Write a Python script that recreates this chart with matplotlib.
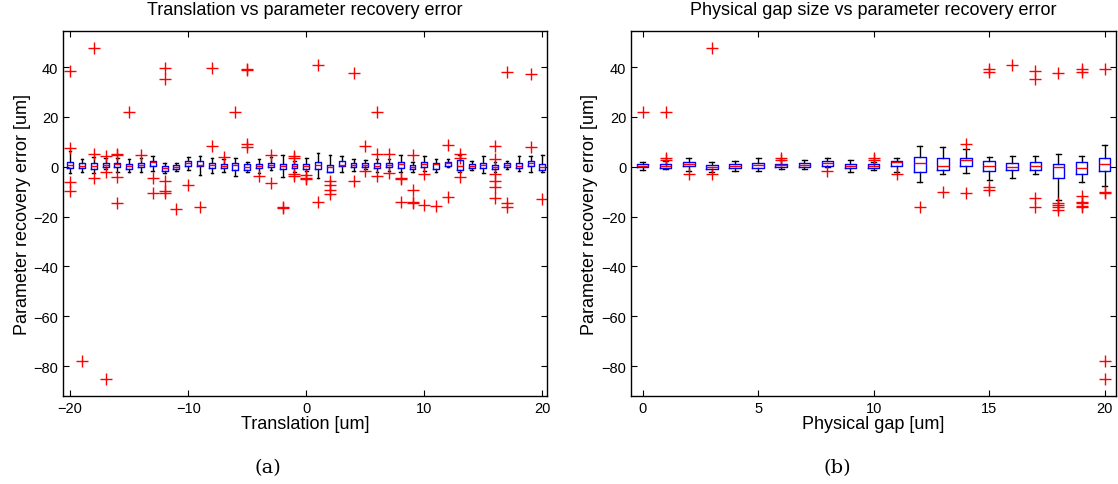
import matplotlib
matplotlib.use('Agg')
import matplotlib.pyplot as plt

plt.rcParams['font.family'] = ['Liberation Sans', 'DejaVu Sans']

# ---------------------------------------------------------------------------
# (a) Translation vs parameter recovery error  -- box statistics per position
# ---------------------------------------------------------------------------
trans_pos = list(range(-20, 21))
trans_med = [0.9, 0.5, 0.5, 0.9, 1.1, 0.4, 0.9, 1.9, -0.4, 0.1, 1.6, 0.9, 0.8, 0.3, 0.9, 0.1,
             0.5, 0.9, 0.5, 0.5, 0.3, 0.9, 0.1, 0.9, 0.9, 0.9, 0.5, 0.8, 1.2, 0.1, 1.2, 1.3,
             1.5, 0.5, 0.4, 0.8, 0.1, 0.9, 0.5, 1.6, 0.1]
trans_q1 = [-0.4, -0.5, -0.8, 0.1, 0.0, -0.8, -0.1, 0.4, -1.6, -0.8, 0.5, 0.3, -0.3, -0.4, -1.1, -1.2,
            -0.4, 0.1, -0.8, -0.4, -0.8, -0.8, -1.9, 0.3, -0.1, 0.1, -0.4, -0.1, -0.3, -0.8, 0.0, -0.8,
            0.5, -1.1, -0.4, -0.5, -0.8, -0.1, -0.4, 0.3, -1.1]
trans_q3 = [2.1, 1.5, 1.6, 1.6, 1.7, 1.3, 1.6, 2.3, 0.4, 0.8, 2.5, 2.5, 1.5, 1.1, 1.6, 1.1,
            1.1, 1.6, 1.3, 1.3, 1.3, 2.1, 0.8, 2.3, 1.6, 1.5, 1.6, 1.5, 2.0, 0.8, 1.9, 1.6,
            2.1, 2.7, 1.1, 1.7, 0.8, 1.5, 1.6, 2.3, 1.2]
trans_wlo = [-2.5, -1.9, -2.5, -0.8, -1.9, -2.1, -2.1, -1.5, -2.4, -1.7, -1.1, -3.4, -2.4, -2.1, -3.5, -2.1,
             -2.4, -1.1, -4.2, -1.9, -1.5, -4.6, -2.1, -1.9, -1.5, -0.8, -1.9, -1.5, -1.9, -2.1, -1.5, -2.1,
             0.1, -2.1, -1.2, -2.4, -1.9, -0.8, -1.5, -2.1, -2.1]
trans_whi = [6.3, 3.2, 3.9, 3.5, 3.5, 3.2, 3.5, 4.2, 1.6, 1.6, 3.8, 4.3, 3.5, 3.2, 3.5, 1.9,
             3.2, 3.9, 4.8, 2.5, 3.5, 5.6, 4.8, 4.4, 3.0, 2.8, 3.2, 3.2, 4.8, 2.1, 4.3, 3.0,
             3.2, 4.8, 2.5, 4.3, 1.9, 2.5, 4.3, 4.3, 4.8]
trans_fliers = [
    [38.4, 7.5, -6.3, -9.7], [-77.8], [47.8, 5.2, -4.5], [4.3, -2.1, -85.0],
    [5.0, 4.6, -3.9, -14.6], [22.0], [4.6], [-4.3, -10.5],
    [39.5, 35.2, -5.9, -9.9, -10.5], [-17.0], [-7.5], [-16.0],
    [39.8, 8.3], [4.0], [22.0], [39.2, 38.7, 9.1, 7.8],
    [-3.5], [4.6, -6.4], [-16.3, -16.7], [4.3, 3.5, -2.8, -3.5],
    [-3.2, -4.6, -5.0], [40.8, -14.0], [-5.5, -7.5, -9.5, -10.9], [],
    [37.8, -5.9], [8.3, -1.7], [22.0, 5.2, -3.8], [5.2, -2.4],
    [-4.6, -4.9, -14.0], [4.6, -9.5, -14.0, -14.6], [-2.8, -15.3], [-15.9],
    [8.9, -12.0], [5.2, 3.5, -4.2], [], [],
    [8.2, 3.2, -2.8, -5.5, -8.2, -12.6], [38.1, -14.6, -16.3], [], [37.4, 7.9],
    [-12.9],
]

# ---------------------------------------------------------------------------
# (b) Physical gap size vs parameter recovery error
# ---------------------------------------------------------------------------
gap_pos = list(range(0, 21))
gap_med = [0.5, 0.4, 1.1, 0.0, 0.5, 0.7, 0.7, 0.8, 1.6, 0.5, 0.5, 1.9, 1.6, 0.3, 2.7, 0.3,
           -0.1, 0.3, -0.1, -0.4, 1.1]
gap_q1 = [0.0, -0.3, 0.3, -0.8, -0.3, -0.3, 0.0, 0.0, 0.5, -0.4, -0.3, 0.4, -2.0, -1.1, 0.4, -1.6,
          -1.1, -1.3, -4.5, -2.7, -1.6]
gap_q3 = [1.1, 1.1, 1.9, 0.8, 1.3, 1.6, 1.3, 1.7, 2.3, 1.3, 1.3, 2.3, 3.9, 3.6, 3.6, 2.3,
          1.6, 1.9, 1.3, 2.0, 3.7]
gap_wlo = [-1.1, -0.7, -1.6, -2.0, -1.6, -1.6, -0.7, -0.9, -0.1, -2.0, -1.3, -2.0, -6.1, -2.9, -2.4, -5.3,
           -4.4, -2.8, -13.3, -6.0, -7.6]
gap_whi = [2.1, 2.4, 3.5, 2.0, 2.4, 3.5, 2.7, 2.9, 3.7, 2.7, 2.1, 3.7, 8.3, 7.9, 7.2, 4.1,
           4.4, 4.4, 5.2, 4.4, 8.7]
gap_fliers = [
    [22.1], [22.1, 3.7, 2.6], [-2.7], [47.7, -2.7], [], [], [3.7, 2.7], [],
    [-1.6], [], [3.7, 2.9], [-2.9], [-16.0], [-10.0], [9.1, -10.4],
    [39.2, 38.1, -8.3, -9.3], [40.8], [38.4, 35.3, -12.7, -16.3],
    [37.6, -14.7, -15.3, -16.0, -17.3],
    [39.3, 38.0, -11.7, -14.0, -14.7, -15.7, -16.3],
    [39.3, -10.0, -10.7, -77.8, -85.0],
]


def make_stats(med, q1, q3, wlo, whi, fliers):
    return [dict(med=m, q1=a, q3=b, whislo=lo, whishi=hi, fliers=f)
            for m, a, b, lo, hi, f in zip(med, q1, q3, wlo, whi, fliers)]


def draw_panel(ax, stats, pos):
    parts = ax.bxp(stats, positions=pos, widths=0.5, capwidths=0.22, showfliers=True,
                   manage_ticks=False,
                   whiskerprops=dict(color='black', linewidth=1.0, linestyle='-'),
                   capprops=dict(color='black', linewidth=1.0),
                   flierprops=dict(marker='+', markeredgecolor='#ff0000', markersize=8,
                                   markeredgewidth=1.0, linestyle='none'))
    # boxes drawn on top of whiskers, MATLAB-like colours
    for b in parts['boxes']:
        b.set_color('#0000ff')
        b.set_linewidth(1.0)
        b.set_zorder(3)
    for m in parts['medians']:
        m.set_color('#ff0000')
        m.set_linewidth(1.0)
        m.set_zorder(4)
    ax.set_ylim(-92, 54.5)
    ax.set_yticks([-80, -60, -40, -20, 0, 20, 40])
    ax.tick_params(direction='in', top=True, right=True, labelsize=10.5, length=4)
    for s in ax.spines.values():
        s.set_linewidth(1.0)
    ax.set_ylabel('Parameter recovery error [um]', fontsize=13, labelpad=2)


fig = plt.figure(figsize=(11.18, 4.85), dpi=100)
ax1 = fig.add_axes([0.0564, 0.1814, 0.433, 0.7526])
ax2 = fig.add_axes([0.5644, 0.1814, 0.434, 0.7526])

draw_panel(ax1, make_stats(trans_med, trans_q1, trans_q3, trans_wlo, trans_whi, trans_fliers), trans_pos)
ax1.set_xlim(-20.6, 20.4)
ax1.set_xticks([-20, -10, 0, 10, 20])
ax1.set_xlabel('Translation [um]', fontsize=13, labelpad=0)
ax1.set_title('Translation vs parameter recovery error', fontsize=13, pad=12)

draw_panel(ax2, make_stats(gap_med, gap_q1, gap_q3, gap_wlo, gap_whi, gap_fliers), gap_pos)
ax2.set_xlim(-0.5, 20.5)
ax2.set_xticks([0, 5, 10, 15, 20])
ax2.set_xlabel('Physical gap [um]', fontsize=13, labelpad=0)
ax2.set_title('Physical gap size vs parameter recovery error', fontsize=13, pad=12)

fig.text(0.2397, 0.025, '(a)', fontsize=14, family='DejaVu Serif', ha='center')
fig.text(0.7487, 0.025, '(b)', fontsize=14, family='DejaVu Serif', ha='center')

fig.savefig('out.png', dpi=100, facecolor='white')
